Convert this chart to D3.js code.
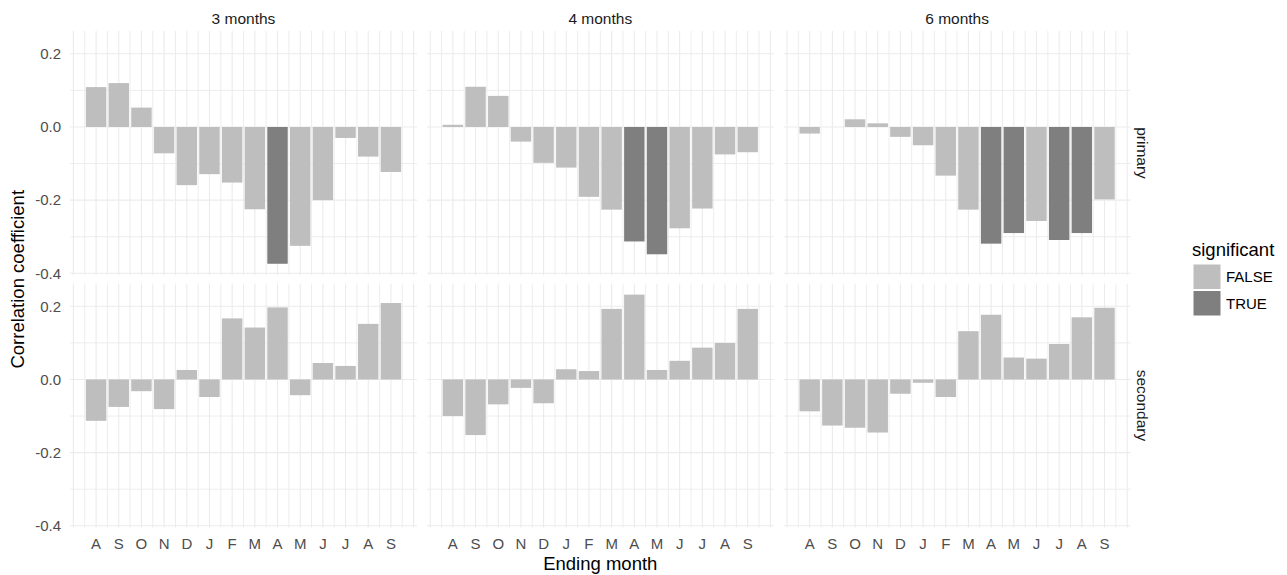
<!DOCTYPE html>
<html>
<head>
<meta charset="utf-8">
<script src="https://cdn.jsdelivr.net/npm/d3@7"></script>
<style>
  html, body { margin: 0; padding: 0; background: #ffffff; }
  svg { display: block; font-family: "Liberation Sans", Arial, sans-serif; }
</style>
</head>
<body>
<svg id="chart" width="1287" height="575"></svg>
<script>
// Ending month of each aggregation window
const months = ["A", "S", "O", "N", "D", "J", "F", "M", "A", "M", "J", "J", "A", "S"];
const windows = ["3 months", "4 months", "6 months"];
const sources = ["primary", "secondary"];
const yTicks = [-0.4, -0.2, 0.0, 0.2];
const yTickLabels = ["-0.4", "-0.2", "0.0", "0.2"];
const yMinor = [-0.3, -0.1, 0.1];

// Correlation coefficients per ending month
const primary3 = [0.109, 0.120, 0.053, -0.072, -0.159, -0.129, -0.152, -0.225, -0.374, -0.325, -0.200, -0.030, -0.081, -0.123];
const primary4 = [0.006, 0.110, 0.085, -0.040, -0.098, -0.111, -0.191, -0.226, -0.313, -0.348, -0.277, -0.223, -0.075, -0.069];
const primary6 = [-0.018, 0.000, 0.021, 0.010, -0.027, -0.050, -0.133, -0.226, -0.319, -0.290, -0.257, -0.309, -0.290, -0.198];
const secondary3 = [-0.113, -0.075, -0.032, -0.081, 0.026, -0.048, 0.167, 0.142, 0.197, -0.043, 0.045, 0.037, 0.152, 0.209];
const secondary4 = [-0.100, -0.152, -0.068, -0.023, -0.065, 0.028, 0.023, 0.193, 0.232, 0.026, 0.051, 0.087, 0.100, 0.193];
const secondary6 = [-0.087, -0.126, -0.132, -0.145, -0.039, -0.009, -0.048, 0.132, 0.177, 0.060, 0.057, 0.097, 0.170, 0.196];

// Significance flags (1 = TRUE)
const sigPrimary3 = [0, 0, 0, 0, 0, 0, 0, 0, 1, 0, 0, 0, 0, 0];
const sigPrimary4 = [0, 0, 0, 0, 0, 0, 0, 0, 1, 1, 0, 0, 0, 0];
const sigPrimary6 = [0, 0, 0, 0, 0, 0, 0, 0, 1, 1, 0, 1, 1, 0];
const sigSecondary = [0, 0, 0, 0, 0, 0, 0, 0, 0, 0, 0, 0, 0, 0];

const panelValues = {
  primary: [primary3, primary4, primary6],
  secondary: [secondary3, secondary4, secondary6]
};
const panelSig = {
  primary: [sigPrimary3, sigPrimary4, sigPrimary6],
  secondary: [sigSecondary, sigSecondary, sigSecondary]
};

const fillScale = d3.scaleOrdinal().domain(["FALSE", "TRUE"]).range(["#bebebe", "#7f7f7f"]);

// Facet geometry
const panelW = 347, panelH = 244;
const colX = [70, 426.8, 783.6];
const rowY = [31, 283.5];

const svg = d3.select("#chart");

const x = d3.scaleLinear().domain([-0.15, 15.15]).range([0, panelW]);
const y = d3.scaleLinear().domain([-0.4047, 0.2624]).range([panelH, 0]);

const gridColor = "#ebebeb";

sources.forEach((src, r) => {
  windows.forEach((win, c) => {
    const g = svg.append("g").attr("transform", `translate(${colX[c]},${rowY[r]})`);

    // vertical grid every half month
    const vx = d3.range(0, 15.001, 0.5);
    g.selectAll("line.v").data(vx).join("line")
      .attr("x1", d => x(d)).attr("x2", d => x(d))
      .attr("y1", 0).attr("y2", panelH)
      .attr("stroke", gridColor)
      .attr("stroke-width", d => Number.isInteger(d) ? 1.1 : 0.9);

    // horizontal grid
    g.selectAll("line.hmin").data(yMinor).join("line")
      .attr("x1", 0).attr("x2", panelW)
      .attr("y1", d => y(d)).attr("y2", d => y(d))
      .attr("stroke", gridColor).attr("stroke-width", 0.9);
    g.selectAll("line.hmaj").data(yTicks).join("line")
      .attr("x1", 0).attr("x2", panelW)
      .attr("y1", d => y(d)).attr("y2", d => y(d))
      .attr("stroke", gridColor).attr("stroke-width", 1.1);

    // bars
    const vals = panelValues[src][c];
    const sig = panelSig[src][c];
    const bw = x(0.9) - x(0);
    g.selectAll("rect.bar").data(vals).join("rect")
      .attr("x", (d, i) => x(i + 1) - bw / 2)
      .attr("width", bw)
      .attr("y", d => y(Math.max(0, d)))
      .attr("height", d => Math.abs(y(d) - y(0)))
      .attr("fill", (d, i) => fillScale(sig[i] ? "TRUE" : "FALSE"));

    // y tick labels on first column
    if (c === 0) {
      g.selectAll("text.yt").data(yTicks).join("text")
        .attr("x", -9).attr("y", d => y(d))
        .attr("dy", "0.35em")
        .attr("text-anchor", "end")
        .attr("font-size", 15).attr("fill", "#4d4d4d")
        .text((d, i) => yTickLabels[i]);
    }

    // x tick labels on bottom row
    if (r === sources.length - 1) {
      g.selectAll("text.xt").data(months).join("text")
        .attr("x", (d, i) => x(i + 1)).attr("y", panelH + 21)
        .attr("text-anchor", "middle")
        .attr("font-size", 15).attr("fill", "#4d4d4d")
        .text(d => d);
    }

    // column strips
    if (r === 0) {
      g.append("text")
        .attr("x", panelW / 2).attr("y", -7)
        .attr("text-anchor", "middle")
        .attr("font-size", 15.5).attr("fill", "#1a1a1a")
        .text(win);
    }

    // row strips
    if (c === windows.length - 1) {
      g.append("text")
        .attr("transform", `translate(${panelW + 6},${panelH / 2}) rotate(90)`)
        .attr("text-anchor", "middle")
        .attr("font-size", 15.5).attr("fill", "#1a1a1a")
        .text(src);
    }
  });
});

// axis titles
svg.append("text")
  .attr("x", (colX[0] + colX[2] + panelW) / 2).attr("y", 570)
  .attr("text-anchor", "middle").attr("font-size", 18.5).attr("fill", "#000")
  .text("Ending month");
svg.append("text")
  .attr("transform", `translate(24,${(rowY[0] + rowY[1] + panelH) / 2}) rotate(-90)`)
  .attr("text-anchor", "middle").attr("font-size", 18.5).attr("fill", "#000")
  .text("Correlation coefficient");

// legend
const lg = svg.append("g").attr("transform", "translate(1192,0)");
lg.append("text").attr("x", 0).attr("y", 256)
  .attr("font-size", 18.5).attr("fill", "#000").text("significant");
const keys = fillScale.domain();
keys.forEach((k, i) => {
  lg.append("rect")
    .attr("x", 1.5).attr("y", 264.5 + i * 26.5)
    .attr("width", 27).attr("height", 24.5)
    .attr("fill", fillScale(k));
  lg.append("text")
    .attr("x", 34).attr("y", 277 + i * 26.5)
    .attr("dy", "0.35em")
    .attr("font-size", 15).attr("fill", "#000")
    .text(k);
});
</script>
</body>
</html>
